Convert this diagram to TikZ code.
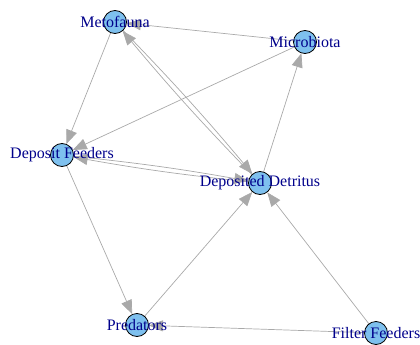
\documentclass[tikz,border=0pt]{standalone}
\usepackage{fontspec}
\setmainfont{Liberation Serif}
\usetikzlibrary{arrows.meta,backgrounds}
\definecolor{vfill}{HTML}{7EC0EE}
\definecolor{efill}{HTML}{A9A9A9}
\definecolor{lblue}{HTML}{00008B}
\tikzset{
  vertex/.style={circle,draw=black,fill=vfill,line width=0.8pt,inner sep=0pt,minimum size=23pt},
  lab/.style={text=lblue,font=\fontsize{16}{17}\selectfont,inner sep=0pt},
  edge/.style={draw=efill,line width=0.7pt,-{Triangle[length=14pt,width=11pt]}}
}
\begin{document}
\begin{tikzpicture}[x=1pt,y=-1pt]
        \useasboundingbox (0,0) rectangle (420,345);
        \foreach \n/\x/\y in {mf/115/22,mb/305/42,df/62/155,dd/260/183,pr/137/325,ff/376/333} {
            \node[vertex] (\n) at (\x,\y) {};
        }
        \begin{pgfonlayer}{background}
        \foreach \a/\b in {mb/mf,mf/df,mb/df,dd/mb,df/pr,pr/dd,ff/pr,ff/dd} {
            \draw[edge] (\a) -- (\b);
        }
        \foreach \a/\b in {mf/dd,dd/mf,dd/df,df/dd} {
            \draw[edge] (\a) to[bend left=2] (\b);
        }
        \end{pgfonlayer}
        \foreach \n/\l in {mf/Metofauna,mb/Microbiota,df/Deposit Feeders,dd/Deposited Detritus,pr/Predators,ff/Filter Feeders} {
            \node[lab] at (\n) {\l};
        }
\end{tikzpicture}
\end{document}
